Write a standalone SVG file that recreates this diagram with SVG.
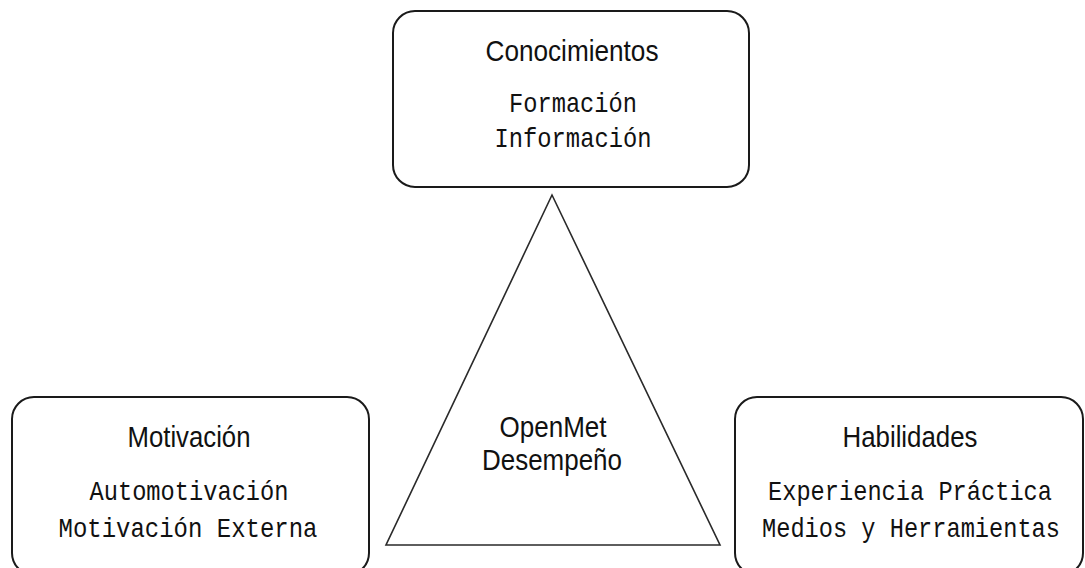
<svg xmlns="http://www.w3.org/2000/svg" width="1085" height="568" viewBox="0 0 1085 568">
<style>
.box{fill:#fff;stroke:#1a1a1a;stroke-width:2}
.tri{fill:#fff;stroke:#2a2a2a;stroke-width:1.6;stroke-linejoin:miter}
.h{font-family:"Liberation Sans",Arial,sans-serif;font-size:30px;fill:#111;text-anchor:middle}
.m{font-family:"Liberation Mono","Courier New",monospace;font-size:28px;fill:#111;text-anchor:middle}
</style>
<rect width="1085" height="568" fill="#fff"/>
<g id="connectors"></g>
<g id="conocimientos">
<rect class="box" x="393" y="11" width="356" height="176" rx="22" ry="22"/>
<text class="h" x="572" y="61" textLength="173" lengthAdjust="spacingAndGlyphs">Conocimientos</text>
<text class="m" x="573" y="112" textLength="128" lengthAdjust="spacingAndGlyphs">Formación</text>
<text class="m" x="573" y="147" textLength="157" lengthAdjust="spacingAndGlyphs">Información</text>
</g>
<g id="desempeno">
<polygon class="tri" points="552,195 720,545 386,545"/>
<text class="h" x="553" y="437" textLength="107" lengthAdjust="spacingAndGlyphs">OpenMet</text>
<text class="h" x="552" y="470" textLength="140" lengthAdjust="spacingAndGlyphs">Desempeño</text>
</g>
<g id="motivacion">
<rect class="box" x="12" y="397" width="357" height="178" rx="22" ry="22"/>
<text class="h" x="189" y="447" textLength="123" lengthAdjust="spacingAndGlyphs">Motivación</text>
<text class="m" x="189" y="500" textLength="199" lengthAdjust="spacingAndGlyphs">Automotivación</text>
<text class="m" x="188" y="537" textLength="259" lengthAdjust="spacingAndGlyphs">Motivación Externa</text>
</g>
<g id="habilidades">
<rect class="box" x="735" y="397" width="348" height="178" rx="22" ry="22"/>
<text class="h" x="910" y="447" textLength="135" lengthAdjust="spacingAndGlyphs">Habilidades</text>
<text class="m" x="910" y="500" textLength="284" lengthAdjust="spacingAndGlyphs">Experiencia Práctica</text>
<text class="m" x="911" y="537" textLength="298" lengthAdjust="spacingAndGlyphs">Medios y Herramientas</text>
</g>
</svg>
